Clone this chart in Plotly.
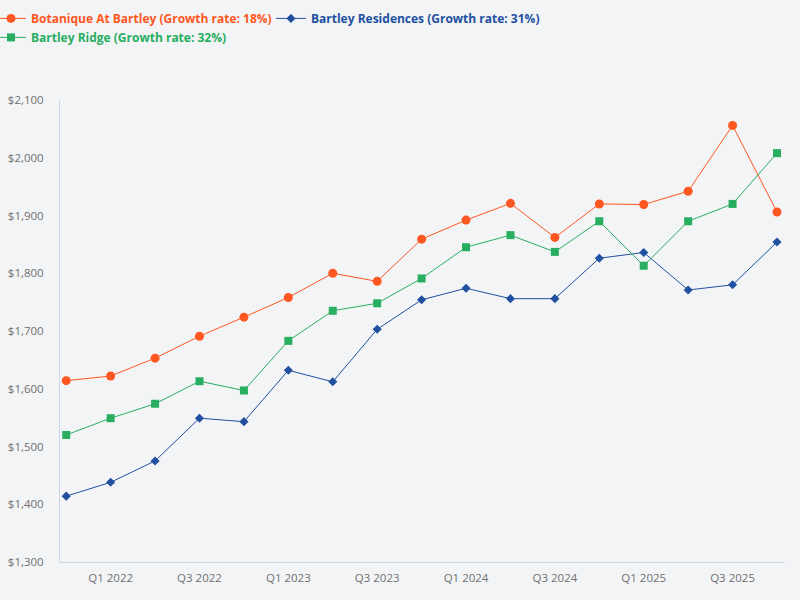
import plotly.graph_objects as go

quarters = ['Q4 2021', 'Q1 2022', 'Q2 2022', 'Q3 2022', 'Q4 2022',
            'Q1 2023', 'Q2 2023', 'Q3 2023', 'Q4 2023',
            'Q1 2024', 'Q2 2024', 'Q3 2024', 'Q4 2024',
            'Q1 2025', 'Q2 2025', 'Q3 2025', 'Q4 2025']

botanique = [1614, 1622, 1653, 1691, 1724, 1758, 1800, 1786, 1859,
             1892, 1921, 1862, 1920, 1919, 1942, 2056, 1906]
residences = [1414, 1438, 1475, 1549, 1543, 1632, 1612, 1703, 1754,
              1774, 1756, 1756, 1826, 1836, 1771, 1780, 1854]
ridge = [1520, 1549, 1574, 1613, 1597, 1683, 1735, 1748, 1791,
         1845, 1866, 1837, 1890, 1813, 1890, 1920, 2008]

tick_labels = ['Q1 2022', 'Q3 2022', 'Q1 2023', 'Q3 2023',
               'Q1 2024', 'Q3 2024', 'Q1 2025', 'Q3 2025']

ORANGE = '#ff5722'
BLUE = '#2150a0'
GREEN = '#27ae60'
BG = '#f3f4f6'

fig = go.Figure()

# order matters for legend layout: orange, blue, green
fig.add_trace(go.Scatter(x=quarters, y=botanique,
                         mode='lines+markers',
                         line=dict(color=ORANGE, width=1),
                         marker=dict(symbol='circle', size=9, color=ORANGE),
                         name=f'<span style="color:{ORANGE}">Botanique At Bartley (Growth rate: 18%)</span>'))

fig.add_trace(go.Scatter(x=quarters, y=residences,
                         mode='lines+markers',
                         line=dict(color=BLUE, width=1),
                         marker=dict(symbol='diamond', size=7, color=BLUE),
                         name=f'<span style="color:{BLUE}">Bartley Residences (Growth rate: 31%)</span>'))

fig.add_trace(go.Scatter(x=quarters, y=ridge,
                         mode='lines+markers',
                         line=dict(color=GREEN, width=1),
                         marker=dict(symbol='square', size=8, color=GREEN),
                         name=f'<span style="color:{GREEN}">Bartley Ridge (Growth rate: 32%)</span>'))

fig.update_layout(width=800, height=600,
                  margin=dict(l=60, r=15, t=100, b=38, autoexpand=False),
                  paper_bgcolor=BG,
                  plot_bgcolor=BG,
                  font=dict(family='Open Sans', size=11, color='#707070'),
                  showlegend=True,
                  legend=dict(orientation='h', x=-0.0952, xanchor='left',
                              y=1.208, yanchor='top',
                              entrywidth=235, entrywidthmode='pixels',
                              font=dict(size=12, weight=700),
                              bgcolor='rgba(0,0,0,0)'),
                  xaxis=dict(type='category',
                             range=[-0.14, 16.18],
                             tickvals=tick_labels,
                             ticktext=tick_labels,
                             showgrid=False, zeroline=False,
                             showline=True, linecolor='#c9d5e8', linewidth=1,
                             ticks='', ticklabelstandoff=5,
                             tickfont=dict(size=11.5, color='#707070')),
                  yaxis=dict(range=[1300, 2100], dtick=100,
                             tickprefix='$', tickformat=',d',
                             showgrid=False, zeroline=False,
                             showline=True, linecolor='#c9d5e8', linewidth=1,
                             ticks='', ticklabelstandoff=13,
                             tickfont=dict(size=11.5, color='#707070')),
                  hovermode='x unified')

# drop the default body margin so the figure sits flush in the window
fig.write_html("out.html",
               config={'displayModeBar': False},
               post_script=f"document.body.style.margin='0';document.body.style.background='{BG}';")
